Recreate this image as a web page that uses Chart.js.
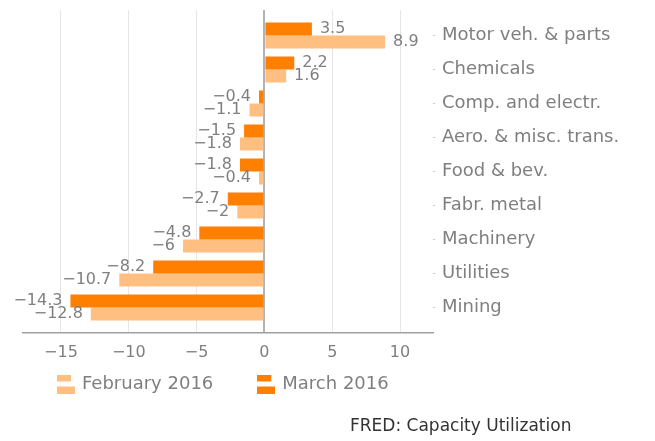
<!DOCTYPE html>
<html>
<head>
<meta charset="utf-8">
<script src="https://cdn.jsdelivr.net/npm/chart.js@4"></script>
<style>
    html, body { margin: 0; padding: 0; background: #fff; }
    #wrap { position: relative; width: 655px; height: 441px; }
    #source {
        position: absolute; left: 350px; top: 415px;
        font: 17px "DejaVu Sans", sans-serif; color: #333;
        white-space: nowrap;
    }
</style>
</head>
<body>
<div id="wrap">
    <canvas id="chart" width="655" height="441"></canvas>
    <div id="source">FRED: Capacity Utilization</div>
</div>
<script>
// 数据
const categories = ['Motor veh. & parts', 'Chemicals', 'Comp. and electr.', 'Aero. & misc. trans.',
    'Food & bev.', 'Fabr. metal', 'Machinery', 'Utilities', 'Mining'];
const february = [8.9, 1.6, -1.1, -1.8, -0.4, -2, -6, -10.7, -12.8];
const march = [3.5, 2.2, -0.4, -1.5, -1.8, -2.7, -4.8, -8.2, -14.3];
const xTicks = [-15, -10, -5, 0, 5, 10];

const LIGHT = '#ffbf80';
const DARK = '#ff7f00';
const GREY = '#7f7f7f';
const FONT = '"DejaVu Sans", sans-serif';

function fmt(v) {
    return v < 0 ? '\u2212' + Math.abs(v) : String(v);
}

// 图例小图标
function makeIcon(color) {
    const c = document.createElement('canvas');
    c.width = 18;
    c.height = 19;
    const g = c.getContext('2d');
    g.fillStyle = color;
    g.fillRect(0, 0, 14, 7);
    g.fillRect(0, 12, 18, 7);
    return c;
}
const icons = [makeIcon(DARK), makeIcon(LIGHT)];

// 数值标签
const valueLabels = {
    id: 'valueLabels',
    afterDatasetsDraw(chart) {
        const ctx = chart.ctx;
        ctx.save();
        ctx.font = '16px ' + FONT;
        ctx.fillStyle = GREY;
        ctx.textBaseline = 'middle';
        chart.data.datasets.forEach((ds, di) => {
            chart.getDatasetMeta(di).data.forEach((bar, i) => {
                const v = ds.data[i].x;
                if (v >= 0) {
                    ctx.textAlign = 'left';
                    ctx.fillText(fmt(v), bar.x + 8, bar.y);
                } else {
                    ctx.textAlign = 'right';
                    ctx.fillText(fmt(v), bar.x - 8, bar.y);
                }
            });
        });
        ctx.restore();
    }
};

// 图例位置微调
const legendPlace = {
    id: 'legendPlace',
    afterLayout(chart) {
        chart.legend.left = 13;
        chart.legend.top = 329;
    }
};

new Chart(document.getElementById('chart'), {
    type: 'bar',
    data: {
        datasets: [{
            label: 'March 2016',
            data: march.map((v, i) => ({ x: v, y: i })),
            backgroundColor: DARK
        }, {
            label: 'February 2016',
            data: february.map((v, i) => ({ x: v, y: i })),
            backgroundColor: LIGHT
        }]
    },
    plugins: [valueLabels, legendPlace],
    options: {
        indexAxis: 'y',
        responsive: false,
        animation: false,
        categoryPercentage: 0.765,
        barPercentage: 1,
        layout: { padding: { left: 23, top: 10, right: 0, bottom: 0 } },
        plugins: {
            tooltip: { enabled: false },
            legend: {
                position: 'bottom',
                align: 'start',
                reverse: true,
                labels: {
                    usePointStyle: true,
                    pointStyleWidth: 14,
                    padding: 46,
                    color: GREY,
                    font: { family: FONT, size: 18 },
                    generateLabels(chart) {
                        const items = Chart.defaults.plugins.legend.labels.generateLabels(chart);
                        items.forEach(item => { item.pointStyle = icons[item.datasetIndex]; });
                        return items;
                    }
                }
            }
        },
        scales: {
            x: {
                type: 'linear',
                min: -17.8,
                max: 12.43,
                afterBuildTicks: scale => { scale.ticks = xTicks.map(v => ({ value: v })); },
                afterFit: scale => { scale.height = 34; },
                ticks: {
                    padding: 10,
                    color: GREY,
                    font: { family: FONT, size: 16 },
                    callback: v => fmt(v)
                },
                grid: {
                    drawTicks: false,
                    color: c => c.tick && c.tick.value === 0 ? '#b3b3b3' : '#e6e6e6',
                    lineWidth: c => c.tick && c.tick.value === 0 ? 2 : 1
                },
                border: { color: '#a0a0a0', width: 1.5 }
            },
            y: {
                type: 'linear',
                position: 'right',
                reverse: true,
                offset: false,
                min: -0.75,
                max: 8.75,
                afterBuildTicks: scale => { scale.ticks = categories.map((_, i) => ({ value: i })); },
                afterFit: scale => {
                    scale.width = 222;
                    scale.paddingTop = 0;
                    scale.paddingBottom = 0;
                },
                ticks: {
                    padding: 7,
                    color: GREY,
                    font: { family: FONT, size: 18 },
                    callback: v => categories[v]
                },
                grid: { offset: false, drawOnChartArea: false, tickLength: 2, color: '#cccccc' },
                border: { display: false }
            }
        }
    }
});
</script>
</body>
</html>
